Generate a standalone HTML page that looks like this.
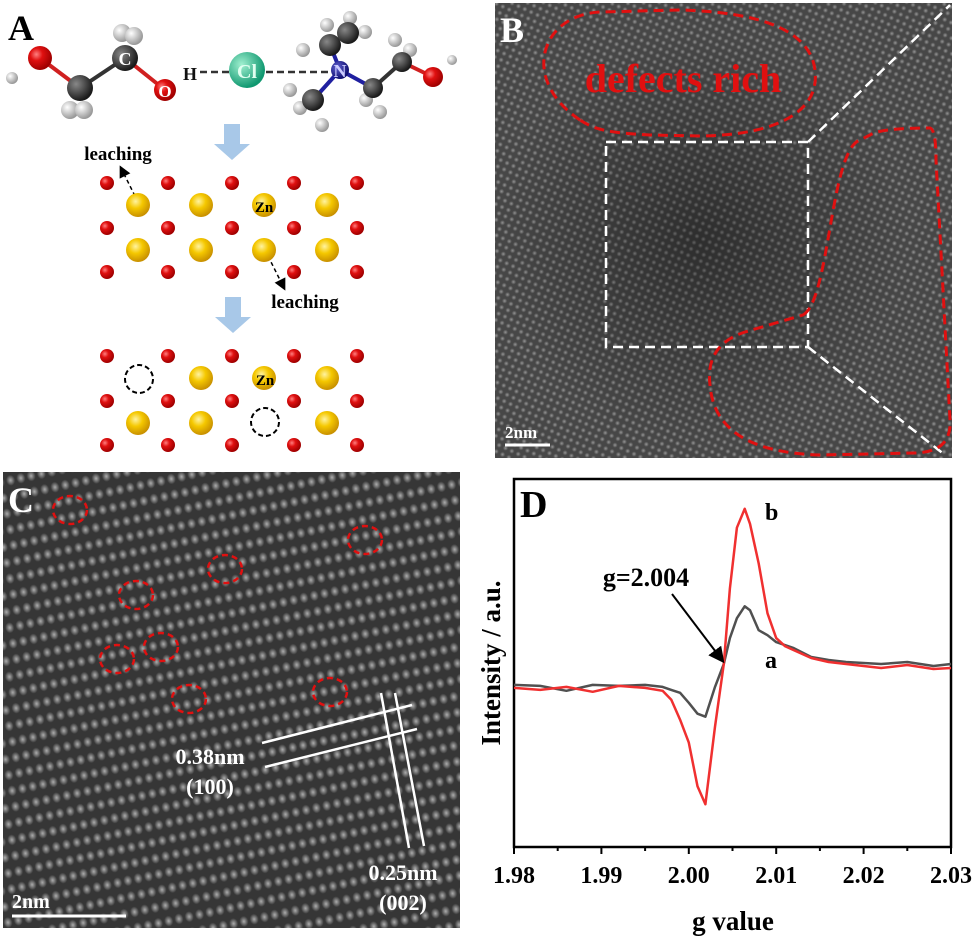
<!DOCTYPE html>
<html><head><meta charset="utf-8"><style>
html,body{margin:0;padding:0;background:#fff;}
svg{display:block;font-family:"Liberation Serif",serif;}
</style></head><body>
<svg id="fig" width="975" height="936" viewBox="0 0 975 936">
<defs>
<radialGradient id="gRed" cx="35%" cy="35%" r="65%"><stop offset="0" stop-color="#ff8080"/><stop offset="0.4" stop-color="#e01010"/><stop offset="1" stop-color="#a00000"/></radialGradient>
<radialGradient id="gZn" cx="40%" cy="35%" r="65%"><stop offset="0" stop-color="#fff3a0"/><stop offset="0.45" stop-color="#f5c800"/><stop offset="1" stop-color="#c89000"/></radialGradient>
<radialGradient id="gC" cx="35%" cy="35%" r="65%"><stop offset="0" stop-color="#888"/><stop offset="1" stop-color="#1a1a1a"/></radialGradient>
<radialGradient id="gH" cx="35%" cy="35%" r="65%"><stop offset="0" stop-color="#fff"/><stop offset="1" stop-color="#999"/></radialGradient>
<radialGradient id="gCl" cx="35%" cy="35%" r="65%"><stop offset="0" stop-color="#a0f0d0"/><stop offset="1" stop-color="#109870"/></radialGradient>
<radialGradient id="gN" cx="35%" cy="35%" r="65%"><stop offset="0" stop-color="#6060d0"/><stop offset="1" stop-color="#101070"/></radialGradient>
<radialGradient id="dot" cx="50%" cy="50%" r="50%"><stop offset="0" stop-color="#e8e8e8" stop-opacity="0.9"/><stop offset="1" stop-color="#e8e8e8" stop-opacity="0"/></radialGradient>
<pattern id="latB" width="7" height="7" patternUnits="userSpaceOnUse" patternTransform="rotate(25)"><rect width="7" height="7" fill="#474747"/><circle cx="3.5" cy="3.5" r="2.6" fill="url(#dot)" opacity="0.55"/></pattern>
<pattern id="latC" width="21" height="16" patternUnits="userSpaceOnUse" patternTransform="rotate(-12)"><rect width="21" height="16" fill="#363636"/><ellipse cx="5" cy="8" rx="4.5" ry="5.5" fill="url(#dot)" opacity="0.75"/><ellipse cx="15.5" cy="8" rx="4.5" ry="5.5" fill="url(#dot)" opacity="0.75"/></pattern>
<radialGradient id="shadeB" cx="45%" cy="52%" r="45%"><stop offset="0" stop-color="#000" stop-opacity="0.35"/><stop offset="1" stop-color="#000" stop-opacity="0"/></radialGradient>
<marker id="arrK" markerWidth="8" markerHeight="8" refX="6" refY="4" orient="auto"><path d="M0,0 L8,4 L0,8 Z" fill="#000"/></marker>
</defs>

<!-- Panel A -->
<g>
<text x="8" y="40" font-size="36" font-weight="bold">A</text>
<g stroke-width="4">
<line x1="40" y1="58" x2="80" y2="88" stroke="#d02020"/><line x1="80" y1="88" x2="125" y2="58" stroke="#333"/><line x1="125" y1="58" x2="165" y2="90" stroke="#d02020"/>
<line x1="340" y1="70" x2="313" y2="100" stroke="#2020a0"/><line x1="340" y1="70" x2="373" y2="88" stroke="#2020a0"/><line x1="340" y1="70" x2="330" y2="45" stroke="#2020a0"/><line x1="373" y1="88" x2="402" y2="62" stroke="#333"/><line x1="402" y1="62" x2="433" y2="77" stroke="#d02020"/>
</g>
<line x1="200" y1="72" x2="335" y2="72" stroke="#333" stroke-width="2.5" stroke-dasharray="7,4"/>
<g>
<circle cx="12" cy="78" r="6" fill="url(#gH)"/><circle cx="40" cy="58" r="12" fill="url(#gRed)"/>
<circle cx="70" cy="110" r="9" fill="url(#gH)"/><circle cx="84" cy="110" r="9" fill="url(#gH)"/><circle cx="80" cy="88" r="13" fill="url(#gC)"/>
<circle cx="122" cy="33" r="9" fill="url(#gH)"/><circle cx="134" cy="36" r="9" fill="url(#gH)"/><circle cx="125" cy="58" r="13" fill="url(#gC)"/>
<circle cx="165" cy="90" r="11" fill="url(#gRed)"/><circle cx="247" cy="70" r="18" fill="url(#gCl)"/>
<circle cx="327" cy="25" r="7" fill="url(#gH)"/><circle cx="350" cy="18" r="7" fill="url(#gH)"/><circle cx="365" cy="32" r="7" fill="url(#gH)"/><circle cx="303" cy="50" r="7" fill="url(#gH)"/>
<circle cx="330" cy="45" r="11" fill="url(#gC)"/><circle cx="348" cy="33" r="11" fill="url(#gC)"/><circle cx="340" cy="70" r="9" fill="url(#gN)"/>
<circle cx="290" cy="90" r="7" fill="url(#gH)"/><circle cx="300" cy="108" r="7" fill="url(#gH)"/><circle cx="322" cy="125" r="7" fill="url(#gH)"/><circle cx="313" cy="100" r="11" fill="url(#gC)"/>
<circle cx="366" cy="100" r="7" fill="url(#gH)"/><circle cx="380" cy="112" r="7" fill="url(#gH)"/><circle cx="373" cy="88" r="10" fill="url(#gC)"/>
<circle cx="395" cy="40" r="7" fill="url(#gH)"/><circle cx="410" cy="50" r="7" fill="url(#gH)"/><circle cx="402" cy="62" r="10" fill="url(#gC)"/>
<circle cx="452" cy="60" r="5" fill="url(#gH)"/><circle cx="433" cy="77" r="10" fill="url(#gRed)"/>
</g>
<g font-weight="bold">
<text x="125" y="65" font-size="18" fill="#fff" text-anchor="middle">C</text>
<text x="165" y="97" font-size="17" fill="#fff" text-anchor="middle">O</text>
<text x="190" y="80" font-size="18" fill="#111" text-anchor="middle">H</text>
<text x="247" y="78" font-size="20" fill="#e0fff0" text-anchor="middle">Cl</text>
<text x="340" y="77" font-size="18" fill="#ccf" text-anchor="middle">N</text>
</g>
<path d="M224,124 h16 v20 h10 l-18,16 l-18,-16 h10 z" fill="#a8c8e8"/>
<path d="M225,297 h16 v20 h10 l-18,16 l-18,-16 h10 z" fill="#a8c8e8"/>
<text x="118" y="160" font-size="19" font-weight="bold" text-anchor="middle">leaching</text>
<text x="305" y="308" font-size="19" font-weight="bold" text-anchor="middle">leaching</text>
<line x1="135" y1="196" x2="121" y2="168" stroke="#000" stroke-width="1.5" stroke-dasharray="4,3" marker-end="url(#arrK)"/>
<line x1="268" y1="256" x2="284" y2="288" stroke="#000" stroke-width="1.5" stroke-dasharray="4,3" marker-end="url(#arrK)"/>
<g id="lattice1"></g>
<g id="lattice2"></g>
<text x="264" y="212" font-size="15" font-weight="bold" text-anchor="middle">Zn</text>
<text x="265" y="385" font-size="15" font-weight="bold" text-anchor="middle">Zn</text>
<circle cx="139" cy="379" r="14" fill="none" stroke="#000" stroke-width="2" stroke-dasharray="5,3"/>
<circle cx="265" cy="422" r="14" fill="none" stroke="#000" stroke-width="2" stroke-dasharray="5,3"/>
</g>

<!-- Panel B -->
<g>
<rect x="495" y="3" width="457" height="455" fill="url(#latB)"/>
<rect x="495" y="3" width="457" height="455" fill="url(#shadeB)"/>
<text x="500" y="42" font-size="36" font-weight="bold" fill="#fff">B</text>
<path d="M580,120 C520,80 540,15 600,12 L680,10 C760,12 810,30 815,70 C820,110 780,135 700,136 L650,135 C610,133 595,130 580,120 Z" fill="none" stroke="#e01010" stroke-width="3" stroke-dasharray="10,6"/>
<text x="683" y="92" font-size="40" font-weight="bold" fill="#e01010" text-anchor="middle">defects rich</text>
<rect x="606" y="142" width="202" height="205" fill="none" stroke="#fff" stroke-width="2.5" stroke-dasharray="10,6"/>
<line x1="808" y1="142" x2="950" y2="5" stroke="#fff" stroke-width="2.5" stroke-dasharray="10,6"/>
<line x1="808" y1="347" x2="945" y2="455" stroke="#fff" stroke-width="2.5" stroke-dasharray="10,6"/>
<path d="M803,315 C830,300 830,150 860,140 L870,135 Q880,128 930,128 Q936,130 936,160 L950,420 Q952,452 915,453 L820,455 Q715,452 710,385 Q705,345 745,332 Z" fill="none" stroke="#e01010" stroke-width="3" stroke-dasharray="10,6"/>
<line x1="505" y1="445" x2="550" y2="445" stroke="#fff" stroke-width="3"/>
<text x="505" y="438" font-size="17" font-weight="bold" fill="#fff">2nm</text>
</g>

<!-- Panel C -->
<g>
<rect x="3" y="472" width="457" height="456" fill="url(#latC)"/>
<text x="8" y="512" font-size="36" font-weight="bold" fill="#fff">C</text>
<g id="vacC"></g>
<g stroke="#fff" stroke-width="2.5">
<line x1="262" y1="743" x2="412" y2="705"/><line x1="265" y1="767" x2="417" y2="729"/>
<line x1="381" y1="693" x2="409" y2="848"/><line x1="395" y1="693" x2="424" y2="846"/>
</g>
<g fill="#fff" font-weight="bold" font-size="22" text-anchor="middle">
<text x="210" y="764">0.38nm</text><text x="210" y="794">(100)</text>
<text x="403" y="880">0.25nm</text><text x="403" y="910">(002)</text>
</g>
<line x1="12" y1="916" x2="126" y2="916" stroke="#fff" stroke-width="3"/>
<text x="12" y="908" font-size="20" font-weight="bold" fill="#fff">2nm</text>
</g>

<!-- Panel D -->
<g id="panelD">
<text x="520" y="517" font-size="38" font-weight="bold">D</text>
<g id="plotD"></g>
<text x="733" y="930" font-size="27" font-weight="bold" text-anchor="middle">g value</text>
<text transform="translate(500,663) rotate(-90)" font-size="27" font-weight="bold" text-anchor="middle">Intensity / a.u.</text>
<text x="646" y="586" font-size="26" font-weight="bold" text-anchor="middle">g=2.004</text>
<line x1="672" y1="594" x2="722" y2="660" stroke="#000" stroke-width="2" marker-end="url(#arrK)"/>
<text x="765" y="520" font-size="24" font-weight="bold">b</text>
<text x="765" y="668" font-size="24" font-weight="bold">a</text>
</g>
</svg>
<script>
const NS="http://www.w3.org/2000/svg";
function mk(tag,attrs,parent){const e=document.createElementNS(NS,tag);for(const k in attrs)e.setAttribute(k,attrs[k]);parent.appendChild(e);return e;}

const l1=document.getElementById('lattice1'), l2=document.getElementById('lattice2');
const oxX=[107,168,232,294,357];
const znX=[138,201,264,327];
function lattice(g,y0,skip){
  [0,45,89].forEach(dy=>oxX.forEach(x=>{const c=mk('circle',{cx:x,cy:y0+dy,r:7,fill:'url(#gRed)'},g);
    
    }));
  [22,67].forEach((dy,ri)=>znX.forEach((x,ci)=>{if(skip&&skip.some(s=>s[0]===ri&&s[1]===ci))return;
    const c=mk('circle',{cx:x,cy:y0+dy,r:12,fill:'url(#gZn)'},g);
    
    }));
}
lattice(l1,183,null);
lattice(l2,356,[[0,0],[1,2]]);

const vC=document.getElementById('vacC');
[[70,510],[365,540],[225,569],[136,595],[161,647],[117,659],[189,699],[330,692]].forEach(p=>{
  const e=mk('ellipse',{cx:p[0],cy:p[1],rx:17,ry:14,fill:'none',stroke:'#e01010','stroke-width':2.5,'stroke-dasharray':'6,4'},vC);
  
  
});

// EPR chart data
const gValues=[1.980,1.983,1.986,1.989,1.992,1.995,1.997,1.998,1.999,2.000,2.001,2.0019,2.003,2.004,2.0047,2.0055,2.0064,2.007,2.008,2.009,2.010,2.011,2.012,2.014,2.016,2.018,2.020,2.022,2.025,2.028,2.030];
const seriesB=[0,-2,1,-4,2,0,-3,-12,-32,-55,-99,-117,-39,24,100,161,180,165,125,75,50,42,38,30,26,24,22,20,23,19,20];
const seriesA=[3,2,-3,3,2,3,1,-2,-5,-15,-26,-29,1,24,50,70,82,78,58,53,46,43,40,31,28,26,25,24,26,22,24];
const xTicks=[1.98,1.99,2.00,2.01,2.02,2.03];
const xTickLabels=["1.98","1.99","2.00","2.01","2.02","2.03"];

const X0=514,X1=951,Y0=479,Y1=847;
const xMin=1.98,xMax=2.03,yMin=-160,yMax=210;
const xs=v=>X0+(v-xMin)/(xMax-xMin)*(X1-X0);
const ys=v=>Y1-(v-yMin)/(yMax-yMin)*(Y1-Y0);
const P=document.getElementById('plotD');
const frame=mk('rect',{x:X0,y:Y0,width:X1-X0,height:Y1-Y0,fill:'none',stroke:'#000','stroke-width':2.5},P);


xTicks.forEach((t,i)=>{
  const x=xs(t);
  const tk=mk('line',{x1:x,y1:Y1,x2:x,y2:Y1+7,stroke:'#000','stroke-width':2},P);
  
  
  const tl=mk('text',{x:x,y:Y1+36,'font-size':24,'font-weight':'bold','text-anchor':'middle'},P);
  tl.textContent=xTickLabels[i];
  
  
  if(i<xTicks.length-1){const mx=xs(t+0.005);
    const mt=mk('line',{x1:mx,y1:Y1,x2:mx,y2:Y1+4,stroke:'#000','stroke-width':2},P);
    
    }
});
function line(vals,color,name){
  const d=gValues.map((g,i)=>(i?'L':'M')+xs(g).toFixed(1)+','+ys(vals[i]).toFixed(1)).join(' ');
  const p=mk('path',{d:d,fill:'none',stroke:color,'stroke-width':2.5,'stroke-linejoin':'round'},P);
  
  
}
line(seriesA,'#505050','series-a-line');
line(seriesB,'#f03030','series-b-line');
</script>
</body></html>
